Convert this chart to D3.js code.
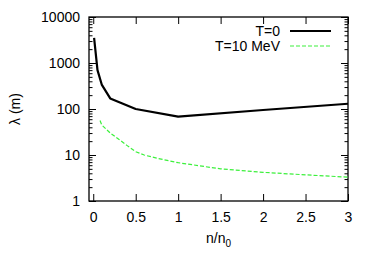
<!DOCTYPE html>
<html>
<head>
<meta charset="utf-8">
<script src="https://cdn.jsdelivr.net/npm/d3@7"></script>
<style>
  body { margin: 0; background: #fff; }
  svg { display: block; font-family: 'Liberation Sans', Arial, sans-serif; }
</style>
</head>
<body>
<svg id="chart" width="375" height="263"></svg>
<script>
// T=0 curve: [n/n0, lambda in m]
const zeroTemp = [
  [0.01, 3500], [0.05, 700], [0.1, 340], [0.2, 170],
  [0.5, 100], [1, 68], [2, 95], [3, 130],
];
// T=10 MeV curve
const tenMeV = [
  [0.08, 56], [0.1, 45], [0.2, 30], [0.3, 22], [0.4, 16], [0.5, 11.8],
  [0.6, 10], [0.75, 8.5], [1, 6.8], [1.5, 5.0], [2, 4.2], [2.5, 3.7], [3, 3.3],
];
const xTicks = [0, 0.5, 1, 1.5, 2, 2.5, 3];
const yTicks = [1, 10, 100, 1000, 10000];
const legendLabels = ['T=0', 'T=10 MeV'];

const margin = { left: 89, right: 27, top: 17, bottom: 62 };
const width = 375, height = 263;
const fontSize = 14;
const green = '#3cf03c';
const svg = d3.select('#chart');

const x = d3.scaleLinear().domain([-0.05, 3]).range([margin.left, width - margin.right]);
const y = d3.scaleLog().domain([1, 10000]).range([height - margin.bottom, margin.top]);

const minorTicks = y.ticks().filter((t) => !yTicks.includes(t));

const axisG = svg.append('g');

// bottom / top x axes
axisG.append('g')
  .attr('transform', `translate(0,${y(1)})`)
  .call(d3.axisBottom(x).tickValues(xTicks).tickSizeInner(-7).tickSizeOuter(0).tickPadding(11).tickFormat(d3.format('')));
axisG.append('g')
  .attr('transform', `translate(0,${y(10000)})`)
  .call(d3.axisTop(x).tickValues(xTicks).tickSizeInner(-7).tickSizeOuter(0).tickFormat(''));

// left / right y axes
axisG.append('g')
  .attr('transform', `translate(${x.range()[0]},0)`)
  .call(d3.axisLeft(y).tickValues(yTicks).tickSizeInner(-7).tickSizeOuter(0).tickPadding(9).tickFormat(d3.format('d')));
axisG.append('g')
  .attr('transform', `translate(${x.range()[0]},0)`)
  .call(d3.axisLeft(y).tickValues(minorTicks).tickSizeInner(-3.5).tickSizeOuter(0).tickFormat(''));
axisG.append('g')
  .attr('transform', `translate(${x.range()[1]},0)`)
  .call(d3.axisRight(y).tickValues(yTicks).tickSizeInner(-7).tickSizeOuter(0).tickFormat(''));
axisG.append('g')
  .attr('transform', `translate(${x.range()[1]},0)`)
  .call(d3.axisRight(y).tickValues(minorTicks).tickSizeInner(-3.5).tickSizeOuter(0).tickFormat(''));

axisG.selectAll('.domain').remove();
axisG.selectAll('text').attr('font-size', fontSize).attr('fill', '#000').attr('font-family', null);
axisG.selectAll('line').attr('stroke', '#000');

// frame
svg.append('rect')
  .attr('x', x.range()[0]).attr('y', y.range()[1])
  .attr('width', x.range()[1] - x.range()[0])
  .attr('height', y.range()[0] - y.range()[1])
  .attr('fill', 'none').attr('stroke', '#000').attr('stroke-width', 1.3);

const line = d3.line().x((d) => x(d[0])).y((d) => y(d[1]));

svg.append('path').datum(tenMeV)
  .attr('d', line).attr('fill', 'none')
  .attr('stroke', green).attr('stroke-width', 1.2).attr('stroke-dasharray', '4,2');

svg.append('path').datum(zeroTemp)
  .attr('d', line).attr('fill', 'none')
  .attr('stroke', '#000').attr('stroke-width', 2.2).attr('stroke-linejoin', 'round');

// legend
const legend = svg.append('g');
const styles = [
  { stroke: '#000', width: 2.2, dash: null },
  { stroke: green, width: 1.2, dash: '4,2' },
];
legendLabels.forEach((label, i) => {
  const ly = 31 + i * 15;
  legend.append('text')
    .attr('x', 280).attr('y', ly).attr('dy', '0.35em')
    .attr('text-anchor', 'end').attr('font-size', fontSize).text(label);
  legend.append('line')
    .attr('x1', 290).attr('x2', 331).attr('y1', ly).attr('y2', ly)
    .attr('stroke', styles[i].stroke).attr('stroke-width', styles[i].width)
    .attr('stroke-dasharray', styles[i].dash);
});

// axis titles
const cx = (x.range()[0] + x.range()[1]) / 2;
const xLabel = svg.append('text')
  .attr('x', cx).attr('y', 243).attr('text-anchor', 'middle').attr('font-size', fontSize);
xLabel.append('tspan').text('n/n');
xLabel.append('tspan').attr('font-size', 10).attr('dy', 4).text('0');

svg.append('text')
  .attr('transform', `translate(20,${(y.range()[0] + y.range()[1]) / 2}) rotate(-90)`)
  .attr('text-anchor', 'middle').attr('font-size', fontSize)
  .text('λ (m)');
</script>
</body>
</html>
